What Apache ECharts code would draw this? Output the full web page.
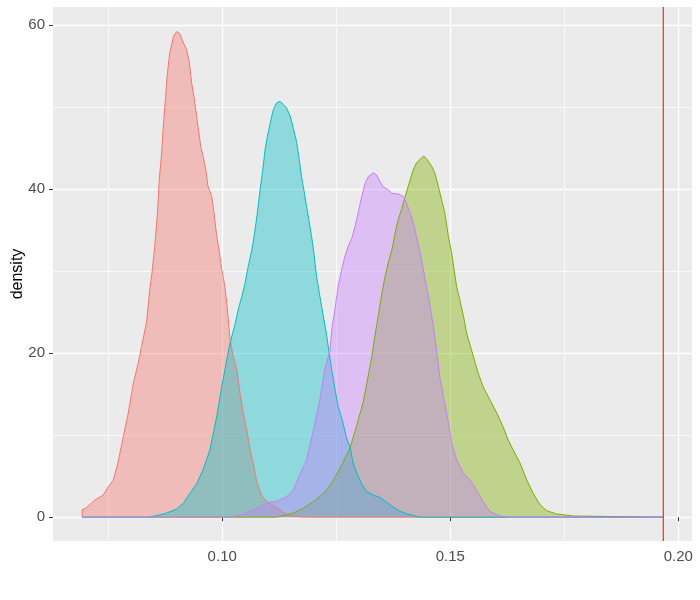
<!DOCTYPE html>
<html>
<head>
<meta charset="utf-8">
<script src="https://cdn.jsdelivr.net/npm/echarts@6/dist/echarts.min.js"></script>
<style>html,body{margin:0;padding:0;background:#fff}#chart{width:700px;height:600px}</style>
</head>
<body>
<div id="chart"></div>
<script>
// ---- data ----
const redDensity = [[0.0693,0],[0.0693,0.9],[0.0703,1.2],[0.0721,2.1],[0.0739,2.7],[0.0750,3.7],[0.0761,4.5],[0.0772,6.8],[0.0783,9.8],[0.0794,12.7],[0.0805,16.3],[0.0816,18.8],[0.0823,20.8],[0.0834,23.7],[0.0841,27.7],[0.0846,29.8],[0.0852,33.0],[0.0858,37.1],[0.0862,41.1],[0.0867,44.4],[0.0872,48.5],[0.0876,51.3],[0.0879,53.7],[0.0885,56.6],[0.0893,58.6],[0.0900,59.2],[0.0906,59.0],[0.0915,57.8],[0.0922,57.0],[0.0928,55.4],[0.0933,52.9],[0.0938,51.3],[0.0942,49.7],[0.0947,47.6],[0.0953,45.2],[0.0958,44.0],[0.0964,42.4],[0.0969,40.3],[0.0977,39.1],[0.0982,37.1],[0.0988,34.2],[0.0993,32.6],[0.0999,30.2],[0.1006,28.1],[0.1011,25.5],[0.1017,21.8],[0.1024,19.6],[0.1032,18.0],[0.1039,15.1],[0.1046,12.7],[0.1054,10.6],[0.1061,8.2],[0.1068,6.6],[0.1075,4.5],[0.1086,2.7],[0.1097,1.9],[0.1110,1.5],[0.1119,1.2],[0.1130,0.7],[0.1141,0.4],[0.1155,0.15],[0.1170,0.05],[0.1200,0],[0.1967,0]];
const greenDensity = [[0.0693,0],[0.1119,0],[0.1156,0.5],[0.1178,1.1],[0.1200,1.9],[0.1222,2.9],[0.1236,3.8],[0.1258,5.9],[0.1280,8.4],[0.1295,11.2],[0.1309,14.0],[0.1320,17.2],[0.1328,19.6],[0.1335,22.2],[0.1342,24.5],[0.1350,27.3],[0.1357,29.3],[0.1364,31.0],[0.1372,32.6],[0.1379,34.6],[0.1386,36.3],[0.1393,37.5],[0.1401,39.1],[0.1412,41.1],[0.1419,42.4],[0.1426,43.2],[0.1437,43.8],[0.1442,44.0],[0.1448,43.7],[0.1459,42.8],[0.1466,42.0],[0.1474,40.3],[0.1481,38.7],[0.1488,37.1],[0.1496,34.2],[0.1503,32.2],[0.1514,28.1],[0.1521,26.5],[0.1529,24.5],[0.1536,22.4],[0.1547,20.3],[0.1561,17.6],[0.1572,15.9],[0.1587,14.3],[0.1602,12.7],[0.1616,11.0],[0.1627,9.4],[0.1638,8.2],[0.1653,6.6],[0.1668,4.5],[0.1682,2.9],[0.1697,1.5],[0.1711,0.8],[0.1733,0.4],[0.1770,0.15],[0.1774,0],[0.1967,0]];
const cyanDensity = [[0.0693,0],[0.0839,0],[0.0860,0.25],[0.0878,0.5],[0.0900,1.0],[0.0915,1.7],[0.0929,2.9],[0.0944,4.1],[0.0958,5.8],[0.0973,8.2],[0.0988,12.3],[0.0999,15.9],[0.1006,18.0],[0.1017,21.2],[0.1028,23.5],[0.1035,25.3],[0.1043,26.9],[0.1050,28.5],[0.1057,30.6],[0.1065,32.6],[0.1072,35.0],[0.1077,37.1],[0.1083,39.9],[0.1089,42.4],[0.1094,44.8],[0.1099,46.4],[0.1105,48.0],[0.1112,49.7],[0.1119,50.5],[0.1127,50.7],[0.1134,50.3],[0.1141,49.9],[0.1149,48.9],[0.1156,47.4],[0.1163,45.8],[0.1169,43.6],[0.1174,41.5],[0.1179,39.9],[0.1185,37.9],[0.1191,35.9],[0.1196,34.2],[0.1201,32.2],[0.1207,29.3],[0.1213,27.3],[0.1218,25.7],[0.1223,24.1],[0.1229,22.2],[0.1234,20.2],[0.1240,18.0],[0.1247,15.7],[0.1254,13.5],[0.1263,11.9],[0.1273,9.6],[0.1280,8.6],[0.1287,6.6],[0.1295,5.4],[0.1306,4.0],[0.1317,3.1],[0.1331,2.7],[0.1346,2.4],[0.1368,1.5],[0.1390,0.7],[0.1412,0.3],[0.1434,0],[0.1967,0]];
const purpleDensity = [[0.0693,0],[0.1017,0],[0.1039,0.3],[0.1050,0.4],[0.1061,0.7],[0.1075,1.0],[0.1083,1.3],[0.1101,1.8],[0.1119,1.9],[0.1141,2.5],[0.1156,3.3],[0.1170,5.2],[0.1185,7.0],[0.1200,10.6],[0.1214,14.3],[0.1225,18.0],[0.1236,20.2],[0.1240,22.8],[0.1247,25.3],[0.1254,28.1],[0.1262,30.2],[0.1269,31.8],[0.1276,33.0],[0.1284,34.0],[0.1291,35.4],[0.1298,37.1],[0.1306,39.1],[0.1313,40.7],[0.1320,41.5],[0.1331,42.0],[0.1339,41.7],[0.1346,40.9],[0.1353,40.3],[0.1364,39.9],[0.1372,39.5],[0.1386,39.4],[0.1397,39.1],[0.1404,38.3],[0.1412,37.1],[0.1419,35.9],[0.1426,34.2],[0.1434,32.2],[0.1441,30.2],[0.1448,28.1],[0.1456,25.7],[0.1463,23.2],[0.1470,20.4],[0.1477,17.1],[0.1488,13.9],[0.1496,11.5],[0.1503,9.0],[0.1514,7.0],[0.1529,5.4],[0.1543,4.5],[0.1558,3.3],[0.1572,1.9],[0.1587,0.7],[0.1609,0.15],[0.1627,0],[0.1967,0]];
const referenceLine = 0.1967;
const xTickValues = [0.10, 0.15, 0.20];
const xMinorValues = [0.075, 0.125, 0.175];
const yTickValues = [0, 20, 40, 60];
const yMinorValues = [10, 30, 50];
const seriesNames = ['A', 'B', 'C', 'D'];
const seriesColors = ['#F8766D', '#7CAE00', '#00BFC4', '#C77CFF'];
const seriesData = [redDensity, greenDensity, cyanDensity, purpleDensity];

// ---- chart ----
const X_MIN = 0.0629, X_MAX = 0.2030, Y_MIN = -2.9, Y_MAX = 62.2;
const chart = echarts.init(document.getElementById('chart'), null, {renderer: 'canvas'});
const labelStyle = {color: '#4D4D4D', fontSize: 15, fontFamily: 'Liberation Sans, Arial, sans-serif'};
const series = seriesData.map((d, i) => ({
  name: seriesNames[i],
  type: 'line',
  data: d,
  xAxisIndex: 0,
  yAxisIndex: 0,
  showSymbol: false,
  symbol: 'none',
  smooth: false,
  lineStyle: {color: seriesColors[i], width: 1},
  itemStyle: {color: seriesColors[i]},
  areaStyle: {color: seriesColors[i], opacity: 0.4},
  silent: true
}));
series.push({
  type: 'line', xAxisIndex: 0, yAxisIndex: 0, silent: true,
  showSymbol: false, symbol: 'none',
  data: [[referenceLine, Y_MIN], [referenceLine, Y_MAX]],
  lineStyle: {color: '#FF0000', width: 1}
});
chart.setOption({
  animation: false,
  backgroundColor: '#FFFFFF',
  grid: {left: 53, right: 8, top: 7, bottom: 59, show: true, backgroundColor: '#EBEBEB', borderWidth: 0, outerBoundsMode: 'none'},
  xAxis: [{
    type: 'value', min: X_MIN, max: X_MAX, position: 'bottom',
    axisLine: {show: false},
    axisTick: {show: true, length: 4, lineStyle: {color: '#333333', width: 1}, customValues: xTickValues},
    axisLabel: Object.assign({margin: 8, customValues: xTickValues, formatter: v => v.toFixed(2)}, labelStyle),
    splitLine: {show: true, lineStyle: {color: '#FFFFFF', width: 1.3}}
  }, {
    type: 'value', min: X_MIN, max: X_MAX, position: 'bottom',
    axisLine: {show: false},
    axisTick: {show: false, customValues: xMinorValues},
    axisLabel: {show: false, customValues: xMinorValues},
    splitLine: {show: true, lineStyle: {color: '#FFFFFF', width: 0.7}}
  }],
  yAxis: [{
    type: 'value', min: Y_MIN, max: Y_MAX,
    name: 'density', nameLocation: 'middle', nameGap: 27, nameRotate: 90, nameMoveOverlap: false,
    nameTextStyle: {color: '#000000', fontSize: 16, fontFamily: 'Liberation Sans, Arial, sans-serif'},
    axisLine: {show: false},
    axisTick: {show: true, length: 4, lineStyle: {color: '#333333', width: 1}, customValues: yTickValues},
    axisLabel: Object.assign({margin: 8, customValues: yTickValues}, labelStyle),
    splitLine: {show: true, lineStyle: {color: '#FFFFFF', width: 1.3}}
  }, {
    type: 'value', min: Y_MIN, max: Y_MAX,
    axisLine: {show: false},
    axisTick: {show: false, customValues: yMinorValues},
    axisLabel: {show: false, customValues: yMinorValues},
    splitLine: {show: true, lineStyle: {color: '#FFFFFF', width: 0.7}}
  }],
  series: series
});
</script>
</body>
</html>
